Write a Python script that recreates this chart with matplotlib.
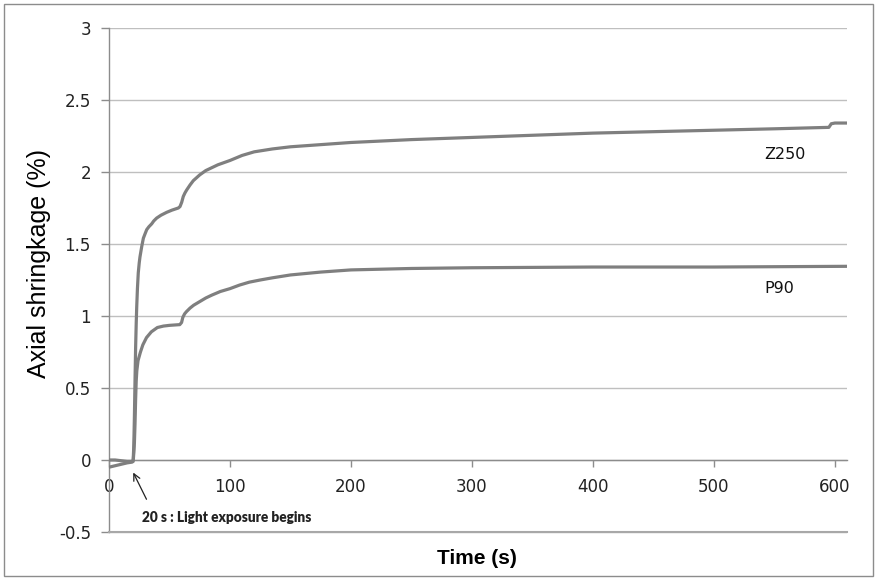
import matplotlib
matplotlib.use("Agg")
import matplotlib.pyplot as plt
from matplotlib.patches import Rectangle

# ---- data ----
z250_time = [0, 5, 10, 15, 19, 20, 20.5, 21, 21.5, 22, 22.5, 22.9, 23.5, 24.2, 25, 25.6,
             27, 28.4, 30, 31.2, 33, 35.3, 37, 39.4, 43, 47.7, 52, 57.3, 58.7, 60.1,
             61.4, 62.8, 64.2, 67, 69.7, 75, 80, 90, 100, 110, 120, 135, 150, 175,
             200, 225, 250, 300, 350, 400, 450, 500, 550, 595, 597, 600, 610]
z250_vals = [0.0, 0.0, -0.005, -0.01, -0.01, 0.0, 0.1, 0.3, 0.55, 0.78, 0.95, 1.06, 1.19, 1.30, 1.37, 1.41,
             1.48, 1.54, 1.575, 1.60, 1.62, 1.64, 1.66, 1.68, 1.70, 1.72, 1.735, 1.75, 1.76, 1.79,
             1.83, 1.855, 1.875, 1.91, 1.94, 1.98, 2.01, 2.05, 2.08, 2.115, 2.14, 2.16, 2.175, 2.19,
             2.205, 2.215, 2.225, 2.24, 2.255, 2.27, 2.28, 2.29, 2.30, 2.31, 2.335, 2.34, 2.34]

p90_time = [0, 5, 10, 15, 19, 20, 20.5, 21, 21.5, 22, 22.5, 23, 24, 25, 26, 28, 31, 35, 40,
            45, 50, 58.5, 60, 61, 62.5, 64, 67, 70, 75, 80, 85, 92, 100, 108, 116, 125, 135,
            150, 175, 200, 250, 300, 400, 500, 610]
p90_vals = [-0.05, -0.04, -0.03, -0.02, -0.015, -0.01, 0.05, 0.12, 0.25, 0.42, 0.55, 0.62, 0.69, 0.72, 0.75, 0.80, 0.85, 0.89, 0.92,
            0.93, 0.935, 0.94, 0.955, 0.99, 1.015, 1.03, 1.055, 1.075, 1.10, 1.125, 1.145, 1.17, 1.19, 1.215, 1.235, 1.25, 1.265,
            1.285, 1.305, 1.32, 1.33, 1.335, 1.34, 1.34, 1.345]

series_names = ["Z250", "P90"]
x_ticks = [0, 100, 200, 300, 400, 500, 600]
y_ticks = [-0.5, 0, 0.5, 1, 1.5, 2, 2.5, 3]
y_tick_labels = ["-0.5", "0", "0.5", "1", "1.5", "2", "2.5", "3"]
annotation_text = "20 s : Light exposure begins"

# ---- figure ----
fig = plt.figure(figsize=(8.77, 5.80), dpi=100)
ax = fig.add_axes([109 / 877, 46 / 580, 738 / 877, 506 / 580])

line_color = "#7f7f7f"
ax.plot(z250_time, z250_vals, color=line_color, lw=2.3, solid_joinstyle="round", zorder=3)
ax.plot(p90_time, p90_vals, color=line_color, lw=2.3, solid_joinstyle="round", zorder=3)

ax.set_xlim(0, 610)
ax.set_ylim(-0.514, 3)
ax.set_xticks(x_ticks)
ax.set_yticks(y_ticks)
ax.set_yticklabels(y_tick_labels)

ax.grid(axis="y", color="#bfbfbf", lw=1.0, zorder=0)
ax.set_axisbelow(True)
# bottom boundary line of the plot area (at the lowest y tick)
ax.axhline(y_ticks[0], color="#a8a8a8", lw=1.5, zorder=4, clip_on=False)

for s in ["top", "right"]:
    ax.spines[s].set_visible(False)
ax.spines["bottom"].set_position(("data", 0))
ax.spines["bottom"].set_color("#8c8c8c")
ax.spines["left"].set_color("#8c8c8c")
ax.spines["left"].set_bounds(y_ticks[0], y_ticks[-1])
ax.spines["bottom"].set_linewidth(1.0)
ax.spines["left"].set_linewidth(1.0)

ax.tick_params(axis="y", direction="out", length=6, width=1, color="#8c8c8c",
               labelsize=12, pad=7, labelcolor="#222222")
ax.tick_params(axis="x", direction="out", length=5, width=1, color="#8c8c8c",
               labelsize=12, pad=8, labelcolor="#222222")

ax.set_ylabel("Axial shringkage (%)", fontsize=18, family="Liberation Sans")
ax.yaxis.set_label_coords(-0.079, 0.534)
ax.set_xlabel("Time (s)", fontsize=15, fontweight="bold", family="Liberation Sans")
ax.xaxis.set_label_coords(0.499, -0.03)

ax.text(559, 2.12, series_names[0], fontsize=11.5, ha="center", va="center", color="#111111")
ax.text(554, 1.19, series_names[1], fontsize=11.5, ha="center", va="center", color="#111111")

ax.annotate("", xy=(19, -0.07), xytext=(32, -0.29),
            arrowprops=dict(arrowstyle="->", color="#222222", lw=0.9, mutation_scale=12))
ax.text(97, -0.40, annotation_text, fontsize=9.8, fontweight="heavy", family="Lato",
        ha="center", va="center", color="#222222")

fig.patches.append(Rectangle((4 / 877, 4 / 580), 869 / 877, 572 / 580,
                             transform=fig.transFigure, fill=False,
                             edgecolor="#8c8c8c", lw=1.0))

fig.savefig("out.png", dpi=100, facecolor="white")
